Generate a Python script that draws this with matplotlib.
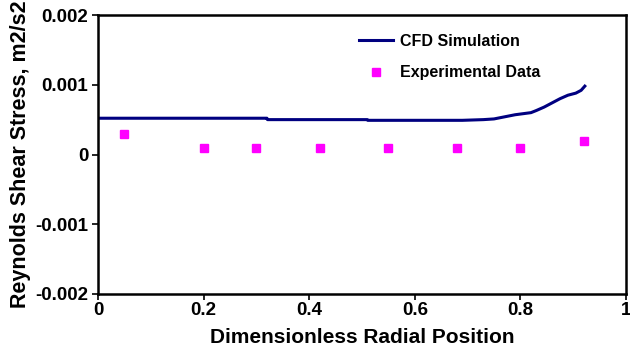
import numpy as np
import matplotlib.pyplot as plt

plt.rcParams['font.family'] = ['Liberation Sans', 'DejaVu Sans']
plt.rcParams['font.weight'] = 'bold'

# CFD simulation curve
cfd_x = [0.0, 0.32, 0.321, 0.51, 0.511, 0.69, 0.73, 0.75, 0.77, 0.79, 0.80, 0.82, 0.83,
         0.845, 0.86, 0.875, 0.89, 0.905, 0.915, 0.922]
cfd_y = [0.00052, 0.00052, 0.00050, 0.00050, 0.00049, 0.00049, 0.00050, 0.00051, 0.00054,
         0.00057, 0.00058, 0.00060, 0.00063, 0.00068, 0.00074, 0.00080, 0.00085, 0.00088,
         0.00092, 0.00098]

# experimental data
exp_x = [0.05, 0.2, 0.3, 0.42, 0.55, 0.68, 0.8, 0.92]
exp_y = [0.0003, 0.0001, 0.0001, 0.0001, 0.0001, 0.0001, 0.0001, 0.0002]

fig = plt.figure(figsize=(6.3, 3.59), dpi=100)
ax = fig.add_axes([98/630, 1 - 294/359, 528/630, 279/359])

ax.plot(cfd_x, cfd_y, color='#000080', linewidth=2.2, label='CFD Simulation')
ax.plot(exp_x, exp_y, linestyle='none', marker='s', markersize=6,
        color='#ff00ff', label='Experimental Data')

ax.set_xlim(0, 1)
ax.set_ylim(-0.002, 0.002)
ax.set_xticks([0, 0.2, 0.4, 0.6, 0.8, 1])
ax.set_xticklabels(['0', '0.2', '0.4', '0.6', '0.8', '1'])
ax.set_yticks([-0.002, -0.001, 0, 0.001, 0.002])
ax.set_yticklabels(['-0.002', '-0.001', '0', '0.001', '0.002'])
ax.tick_params(labelsize=13.5, length=4, width=1.2, direction='out')
ax.tick_params(axis='x', pad=2)
ax.tick_params(axis='y', pad=3)
for s in ax.spines.values():
    s.set_linewidth(1.8)

ax.set_xlabel('Dimensionless Radial Position', fontsize=15, fontweight='bold', labelpad=6)
ax.set_ylabel('Reynolds Shear Stress, m2/s2', fontsize=15.5, fontweight='bold', labelpad=3)

ax.legend(loc='upper left', bbox_to_anchor=(0.468, 0.985), frameon=False,
          fontsize=11.5, handlelength=2.1, handletextpad=0.45, labelspacing=1.05)

plt.savefig('out.png', dpi=100)
